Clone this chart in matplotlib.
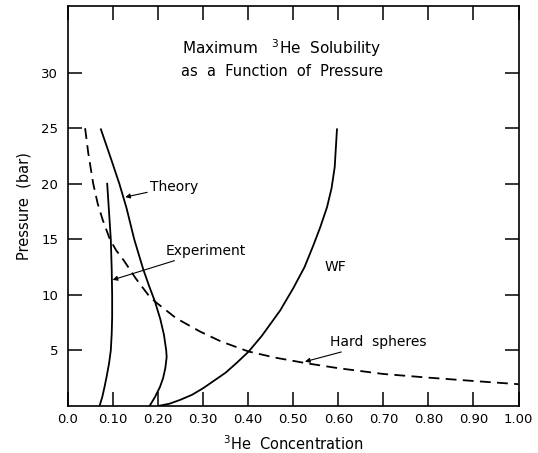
import matplotlib
matplotlib.use("Agg")
import matplotlib.pyplot as plt

theory_x = [0.073, 0.095, 0.114, 0.130, 0.147, 0.167, 0.180, 0.193, 0.205, 0.213, 0.218, 0.219, 0.216, 0.211, 0.204, 0.193, 0.181]
theory_p = [24.9, 22.3, 20.0, 17.8, 15.0, 12.3, 10.8, 9.4, 7.8, 6.4, 5.0, 4.4, 3.4, 2.5, 1.7, 0.8, 0.0]

expt_x = [0.087, 0.091, 0.095, 0.097, 0.098, 0.098, 0.097, 0.095, 0.091, 0.086, 0.081, 0.076, 0.070]
expt_p = [20.0, 17.5, 15.0, 12.3, 10.0, 8.0, 6.5, 5.0, 3.8, 2.7, 1.7, 0.8, 0.0]

wf_x = [0.200, 0.225, 0.249, 0.275, 0.300, 0.325, 0.350, 0.375, 0.401, 0.430, 0.471, 0.500, 0.525, 0.545, 0.560, 0.575, 0.585, 0.592, 0.597]
wf_p = [0.0, 0.2, 0.55, 1.0, 1.6, 2.3, 3.0, 3.9, 4.9, 6.3, 8.6, 10.6, 12.5, 14.5, 16.1, 17.9, 19.6, 21.5, 24.9]

hs_x = [0.038, 0.045, 0.056, 0.066, 0.077, 0.093, 0.107, 0.123, 0.150, 0.178, 0.193, 0.240, 0.293, 0.340, 0.401, 0.460, 0.530, 0.600, 0.700, 0.800, 0.900, 1.000]
hs_p = [25.0, 22.75, 20.0, 18.2, 16.75, 15.0, 14.0, 13.15, 11.5, 10.0, 9.4, 7.9, 6.7, 5.8, 4.9, 4.35, 3.84, 3.4, 2.88, 2.55, 2.25, 1.96]

x_ticks = [0.0, 0.1, 0.2, 0.3, 0.4, 0.5, 0.6, 0.7, 0.8, 0.9, 1.0]
x_labels = ["0.0", "0.10", "0.20", "0.30", "0.40", "0.50", "0.60", "0.70", "0.80", "0.90", "1.00"]
y_ticks = [5, 10, 15, 20, 25, 30]

plt.rcParams['font.family'] = ['DejaVu Sans']

fig = plt.figure(figsize=(5.38, 4.53), dpi=100)
ax = fig.add_axes([0.1264, 0.1038, 0.8374, 0.883])

lw = 1.3
ax.plot(theory_x, theory_p, color='black', lw=lw)
ax.plot(expt_x, expt_p, color='black', lw=lw)
ax.plot(wf_x, wf_p, color='black', lw=lw)
ax.plot(hs_x, hs_p, color='black', lw=lw, dashes=(6, 3.5))

ax.set_xlim(0, 1.0)
ax.set_ylim(0, 36)
ax.set_xticks(x_ticks)
ax.set_xticklabels(x_labels)
ax.set_yticks(y_ticks)
ax.tick_params(direction='in', length=10, width=1.1, top=True, right=True,
               labelsize=9.5)
ax.tick_params(axis='x', pad=5)
ax.tick_params(axis='y', pad=7)
for s in ax.spines.values():
    s.set_linewidth(1.2)

ax.set_xlabel(r"$^3$He  Concentration", fontsize=10.5, labelpad=6)
ax.set_ylabel("Pressure  (bar)", fontsize=10.5, labelpad=7)

ax.text(0.474, 32.2, r"Maximum   $^3$He  Solubility", ha='center', va='center', fontsize=11)
ax.text(0.474, 30.1, "as  a  Function  of  Pressure", ha='center', va='center', fontsize=10.5)

arrow = dict(arrowstyle='-|>', color='black', lw=0.8, mutation_scale=7, shrinkA=0, shrinkB=0)
ax.annotate("Theory", xy=(0.127, 18.8), xytext=(0.182, 19.75), fontsize=10,
            va='center', ha='left', arrowprops=arrow)
ax.annotate("Experiment", xy=(0.099, 11.35), xytext=(0.217, 13.96), fontsize=10,
            va='center', ha='left', arrowprops=arrow)
ax.text(0.570, 12.55, "WF", fontsize=10, va='center', ha='left')
ax.annotate("Hard  spheres", xy=(0.526, 3.99), xytext=(0.581, 5.74), fontsize=10,
            va='center', ha='left', arrowprops=arrow)

fig.savefig("out.png", dpi=100)
